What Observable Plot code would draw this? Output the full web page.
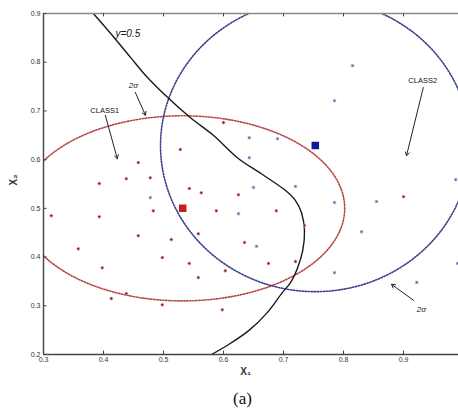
<!DOCTYPE html>
<html>
<head>
<meta charset="utf-8">
<script src="https://cdn.jsdelivr.net/npm/d3@7"></script>
<script src="https://cdn.jsdelivr.net/npm/@observablehq/plot@0.6"></script>
<style>
  body { margin: 0; background: #fff; }
  #cap { font-family: "Liberation Serif", "DejaVu Serif", serif; font-size: 17px; height: 27px; line-height: 27px; padding-left: 233px; color: #111; }
</style>
</head>
<body>
<div id="chart"></div>
<div id="cap">(a)</div>
<script>
// Class 1 samples (x1, x2)
const class1X = [0.458, 0.393, 0.438, 0.478, 0.483, 0.313, 0.393, 0.458, 0.358, 0.398, 0.438, 0.413,
  0.563, 0.588, 0.513, 0.498, 0.543, 0.558, 0.603, 0.498, 0.598, 0.558, 0.600, 0.528, 0.543, 0.625,
  0.900, 0.688, 0.635, 0.675, 0.720, 0.735];
const class1Y = [0.594, 0.551, 0.561, 0.563, 0.495, 0.485, 0.483, 0.444, 0.417, 0.378, 0.325, 0.315,
  0.532, 0.495, 0.436, 0.399, 0.387, 0.358, 0.372, 0.302, 0.292, 0.448, 0.676, 0.621, 0.541, 0.528,
  0.524, 0.495, 0.430, 0.387, 0.391, 0.465];

// Class 2 samples (x1, x2)
const class2X = [0.478, 0.643, 0.643, 0.650, 0.625, 0.815, 0.785, 0.690, 0.987, 0.720, 0.785, 0.855,
  0.830, 0.655, 0.785, 0.922, 0.990];
const class2Y = [0.522, 0.645, 0.604, 0.543, 0.489, 0.793, 0.721, 0.643, 0.559, 0.545, 0.512, 0.514,
  0.452, 0.422, 0.368, 0.348, 0.387];

// Class means and 2-sigma radii (x1, x2)
const meanX = [0.532, 0.753];
const meanY = [0.500, 0.629];
const radiusX = [0.27, 0.258];
const radiusY = [0.19, 0.30];
const classColor = ["#b8474a", "#3a3f8c"];
const meanColor = ["#c41e1e", "#0f1a8e"];

// Decision boundary where the posterior equals 0.5
const boundaryX = [0.383, 0.412, 0.445, 0.473, 0.503, 0.545, 0.583, 0.623, 0.663, 0.703, 0.720, 0.730,
  0.735, 0.732, 0.723, 0.712, 0.698, 0.673, 0.642, 0.608, 0.580];
const boundaryY = [0.900, 0.859, 0.810, 0.769, 0.732, 0.686, 0.650, 0.604, 0.571, 0.537, 0.516, 0.491,
  0.454, 0.413, 0.376, 0.348, 0.327, 0.286, 0.249, 0.220, 0.200];

const xTicks = [0.3, 0.4, 0.5, 0.6, 0.7, 0.8, 0.9];
const yTicks = [0.2, 0.3, 0.4, 0.5, 0.6, 0.7, 0.8, 0.9];

// Annotation labels and arrows
const classLabel = ["CLASS1", "CLASS2"];
const classLabelX = [0.402, 0.932];
const classLabelY = [0.701, 0.762];
const sigmaLabelX = [0.450, 0.930];
const sigmaLabelY = [0.752, 0.292];
const boundaryLabel = "y=0.5";
const boundaryLabelX = 0.420;
const boundaryLabelY = 0.859;
const arrowX1 = [0.403, 0.453, 0.933, 0.917];
const arrowY1 = [0.691, 0.738, 0.748, 0.311];
const arrowX2 = [0.423, 0.470, 0.905, 0.880];
const arrowY2 = [0.602, 0.691, 0.608, 0.344];

const class1 = class1X.map((x, i) => ({x, y: class1Y[i]}));
const class2 = class2X.map((x, i) => ({x, y: class2Y[i]}));
const boundary = boundaryX.map((x, i) => ({x, y: boundaryY[i]}));
const means = meanX.map((x, i) => ({x, y: meanY[i], c: meanColor[i]}));
const classLabels = classLabel.map((t, i) => ({t, x: classLabelX[i], y: classLabelY[i]}));
const sigmaLabels = sigmaLabelX.map((x, i) => ({t: "2σ", x, y: sigmaLabelY[i]}));
const arrows = arrowX1.map((x1, i) => ({x1, y1: arrowY1[i], x2: arrowX2[i], y2: arrowY2[i]}));

// 2-sigma contour of each class as a closed outline
function contour(k) {
  return d3.range(0, 361, 1).map(a => {
    const t = a * Math.PI / 180;
    return {x: meanX[k] + radiusX[k] * Math.cos(t), y: meanY[k] + radiusY[k] * Math.sin(t)};
  });
}

const axisFont = "Liberation Sans, Arial, sans-serif";

const chart = Plot.plot({
  width: 458,
  height: 385,
  marginLeft: 43,
  marginRight: -5,
  marginTop: 13,
  marginBottom: 31,
  style: {background: "#fff", overflow: "hidden"},
  x: {domain: [0.3, 1.0], axis: null},
  y: {domain: [0.2, 0.9], axis: null},
  marks: [
    Plot.line(contour(0), {x: "x", y: "y", stroke: classColor[0], strokeWidth: 1.6, strokeDasharray: "1.4,1.6", clip: true}),
    Plot.line(contour(1), {x: "x", y: "y", stroke: classColor[1], strokeWidth: 1.6, strokeDasharray: "1.4,1.6", clip: true}),
    Plot.line(boundary, {x: "x", y: "y", stroke: "#1a1a1a", strokeWidth: 1.4, curve: "catmull-rom"}),
    Plot.dot(class1, {x: "x", y: "y", r: 1.5, fill: "#7a1414", stroke: "#e9b4b4", strokeWidth: 0.8}),
    Plot.dot(class2, {x: "x", y: "y", r: 1.5, symbol: "square", fill: "#4b56a6", stroke: "#c7cbe8", strokeWidth: 0.8}),
    Plot.dot(means, {x: "x", y: "y", symbol: "square", r: 3.4, fill: "c", stroke: "c"}),
    Plot.arrow(arrows, {x1: "x1", y1: "y1", x2: "x2", y2: "y2", stroke: "#222", strokeWidth: 1, headLength: 6}),
    Plot.text(classLabels, {x: "x", y: "y", text: "t", fontSize: 7.5, fill: "#111", fontFamily: axisFont}),
    Plot.text(sigmaLabels, {x: "x", y: "y", text: "t", fontSize: 8, fontStyle: "italic", fill: "#111", fontFamily: axisFont}),
    Plot.text([boundaryLabel], {x: boundaryLabelX, y: boundaryLabelY, text: d => d, fontSize: 10, fontStyle: "italic", textAnchor: "start", fill: "#111", fontFamily: axisFont}),
    // frame and axes
    Plot.ruleY([0.9], {stroke: "#8a8a8a", strokeWidth: 1.6}),
    Plot.ruleY([0.2], {stroke: "#444", strokeWidth: 1.4}),
    Plot.ruleX([0.3], {stroke: "#444", strokeWidth: 1.4}),
    Plot.ruleX(xTicks.slice(1), {x: d => d, y1: 0.2, y2: 0.207, stroke: "#444"}),
    Plot.ruleX(xTicks.slice(1), {x: d => d, y1: 0.9, y2: 0.893, stroke: "#444"}),
    Plot.ruleY(yTicks, {y: d => d, x1: 0.3, x2: 0.306, stroke: "#444"}),
    Plot.axisX(xTicks, {tickSize: 0, tickPadding: 3, tickFormat: d3.format(".1f"), fontSize: 7, fill: "#333", label: null, fontFamily: axisFont}),
    Plot.axisY(yTicks, {tickSize: 0, tickPadding: 3, tickFormat: d3.format(".1f"), fontSize: 7, fill: "#333", label: null, fontFamily: axisFont}),
    Plot.text(["X₁"], {frameAnchor: "bottom", x: 0.637, dy: 20, text: d => d, fontSize: 10, fontWeight: "bold", fill: "#333", fontFamily: axisFont}),
    Plot.text(["X₂"], {frameAnchor: "left", y: 0.547, dx: -30, rotate: -90, text: d => d, fontSize: 10, fontWeight: "bold", fill: "#333", fontFamily: axisFont})
  ]
});
document.getElementById("chart").appendChild(chart);
</script>
</body>
</html>
